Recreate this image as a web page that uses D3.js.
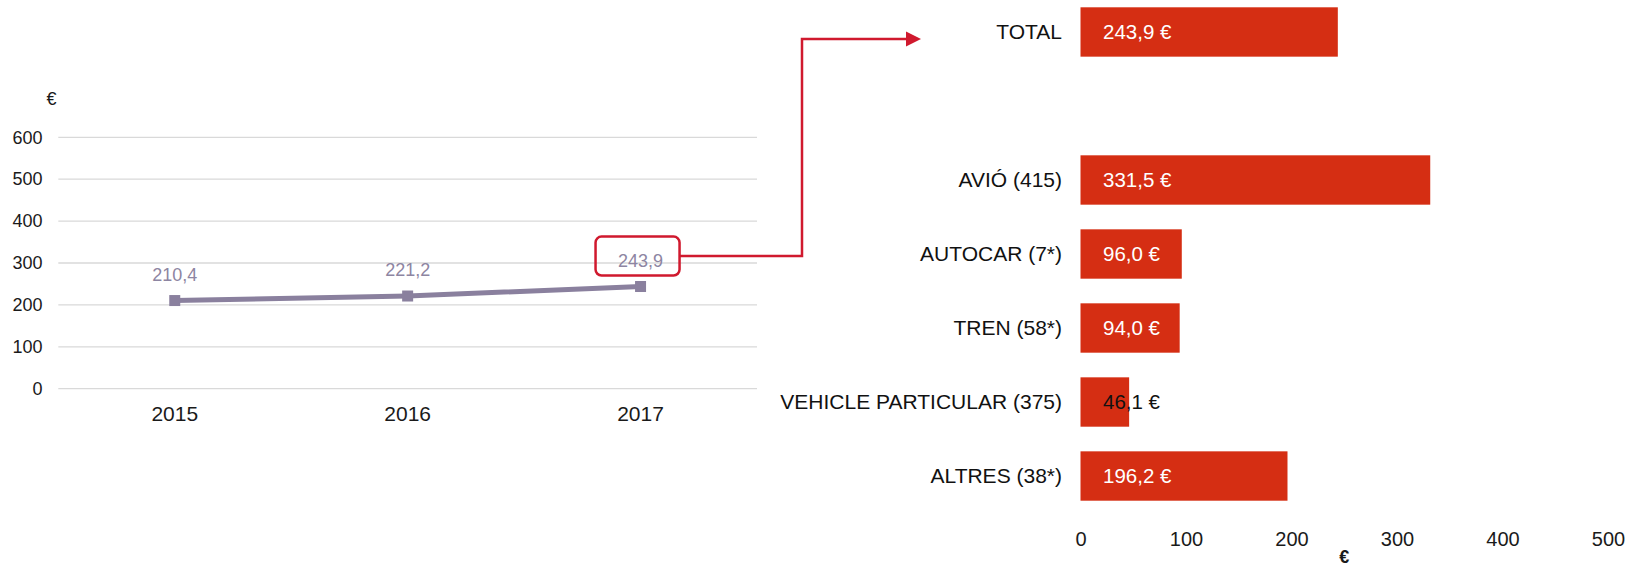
<!DOCTYPE html>
<html>
<head>
<meta charset="utf-8">
<script src="https://cdn.jsdelivr.net/npm/d3@7"></script>
<style>
  html, body { margin: 0; padding: 0; background: #fff; }
  svg { display: block; font-family: "Liberation Sans", Arial, sans-serif; }
</style>
</head>
<body>
<svg id="chart" width="1629" height="567"></svg>
<script>
// ---- Data ----
const years = ["2015", "2016", "2017"];
const yearValues = [210.4, 221.2, 243.9];
const yearLabels = ["210,4", "221,2", "243,9"];
const lineTicks = [0, 100, 200, 300, 400, 500, 600];

const categories = ["TOTAL", "", "AVIÓ (415)", "AUTOCAR (7*)", "TREN (58*)", "VEHICLE PARTICULAR (375)", "ALTRES (38*)"];
const barValues = [243.9, null, 331.5, 96.0, 94.0, 46.1, 196.2];
const barLabels = ["243,9 €", "", "331,5 €", "96,0 €", "94,0 €", "46,1 €", "196,2 €"];
const barTicks = [0, 100, 200, 300, 400, 500];

const svg = d3.select("#chart");
const FONT = '"Liberation Sans", Arial, sans-serif';

// ---- Left: line chart ----
const lx = d3.scaleBand().domain(years).range([58.3, 757]);
const ly = d3.scaleLinear().domain([0, 600]).range([388.7, 137.3]);

const left = svg.append("g");

left.append("g").selectAll("line").data(lineTicks).join("line")
  .attr("x1", 58.3).attr("x2", 757)
  .attr("y1", d => ly(d)).attr("y2", d => ly(d))
  .attr("stroke", "#d9d9d9").attr("stroke-width", 1.3);

const yAxis = d3.axisLeft(ly).tickValues(lineTicks).tickSize(0).tickPadding(0);
left.append("g").attr("transform", "translate(42.5,0)").call(yAxis)
  .call(g => g.select(".domain").remove())
  .call(g => g.selectAll("text").attr("font-size", 18).attr("font-family", FONT).attr("fill", "#1a1a1a"));

const xAxis = d3.axisBottom(lx).tickSize(0).tickPadding(0);
left.append("g").attr("transform", "translate(0,406.5)").call(xAxis)
  .call(g => g.select(".domain").remove())
  .call(g => g.selectAll("text").attr("font-size", 21).attr("font-family", FONT).attr("fill", "#1a1a1a"));

left.append("text").attr("x", 46.5).attr("y", 105).attr("font-size", 18).attr("fill", "#1a1a1a").text("€");

const pts = years.map((y, i) => ({ x: lx(y) + lx.bandwidth() / 2, y: ly(yearValues[i]), label: yearLabels[i] }));
left.append("path")
  .attr("d", d3.line().x(d => d.x).y(d => d.y)(pts))
  .attr("fill", "none").attr("stroke", "#8a809e").attr("stroke-width", 5);
left.selectAll("rect.mk").data(pts).join("rect").attr("class", "mk")
  .attr("x", d => d.x - 5.5).attr("y", d => d.y - 5.5)
  .attr("width", 11).attr("height", 11).attr("fill", "#8a809e");
left.selectAll("text.lbl").data(pts).join("text").attr("class", "lbl")
  .attr("x", d => d.x).attr("y", d => d.y - 20)
  .attr("text-anchor", "middle").attr("font-size", 18).attr("fill", "#8d85a2")
  .text(d => d.label);

// ---- Right: bar chart ----
const bx = d3.scaleLinear().domain([0, 500]).range([1080.5, 1608]);
const by = d3.scaleBand().domain(categories).range([7.3, 500.7]).paddingInner(0.333).paddingOuter(0);

const right = svg.append("g");
const rows = categories.map((c, i) => ({ c, v: barValues[i], l: barLabels[i] })).filter(d => d.v != null);

right.selectAll("rect.bar").data(rows).join("rect").attr("class", "bar")
  .attr("x", bx(0)).attr("y", d => by(d.c))
  .attr("width", d => bx(d.v) - bx(0)).attr("height", by.bandwidth())
  .attr("fill", "#d52e13");

right.selectAll("text.cat").data(rows).join("text").attr("class", "cat")
  .attr("x", bx(0) - 18.5).attr("y", d => by(d.c) + by.bandwidth() / 2)
  .attr("dy", "0.35em").attr("text-anchor", "end").attr("font-size", 21).attr("fill", "#111")
  .text(d => d.c);

right.selectAll("text.val").data(rows).join("text").attr("class", "val")
  .attr("x", bx(0) + 22.5).attr("y", d => by(d.c) + by.bandwidth() / 2)
  .attr("dy", "0.35em").attr("font-size", 20.5)
  .attr("fill", d => (bx(d.v) - bx(0)) < 70 ? "#111" : "#fff")
  .text(d => d.l);

const bAxis = d3.axisBottom(bx).tickValues(barTicks).tickSize(0).tickPadding(0).tickFormat(d3.format("d"));
right.append("g").attr("transform", "translate(0,531.5)").call(bAxis)
  .call(g => g.select(".domain").remove())
  .call(g => g.selectAll("text").attr("font-size", 20).attr("font-family", FONT).attr("fill", "#1a1a1a"));

right.append("text").attr("x", bx(250)).attr("y", 563).attr("text-anchor", "middle")
  .attr("font-size", 18).attr("font-weight", "bold").attr("fill", "#1a1a1a").text("€");

// ---- Callout annotation ----
const RED = "#d0192e";
const p2017 = pts[2];
const boxW = 84, boxH = 39;
const boxX = p2017.x - 45, boxY = p2017.y - 50;
svg.append("rect").attr("x", boxX).attr("y", boxY).attr("width", boxW).attr("height", boxH)
  .attr("rx", 6).attr("fill", "none").attr("stroke", RED).attr("stroke-width", 2.5);

const midY = boxY + boxH / 2;
const topY = by("TOTAL") + by.bandwidth() / 2 + 7;
const elbowX = 802, tipX = 921;
svg.append("path")
  .attr("d", `M${boxX + boxW},${midY} H${elbowX} V${topY} H${tipX - 15}`)
  .attr("fill", "none").attr("stroke", RED).attr("stroke-width", 2.5);
svg.append("path")
  .attr("d", `M${tipX - 15},${topY - 7.5} L${tipX},${topY} L${tipX - 15},${topY + 7.5} Z`)
  .attr("fill", RED);
</script>
</body>
</html>
